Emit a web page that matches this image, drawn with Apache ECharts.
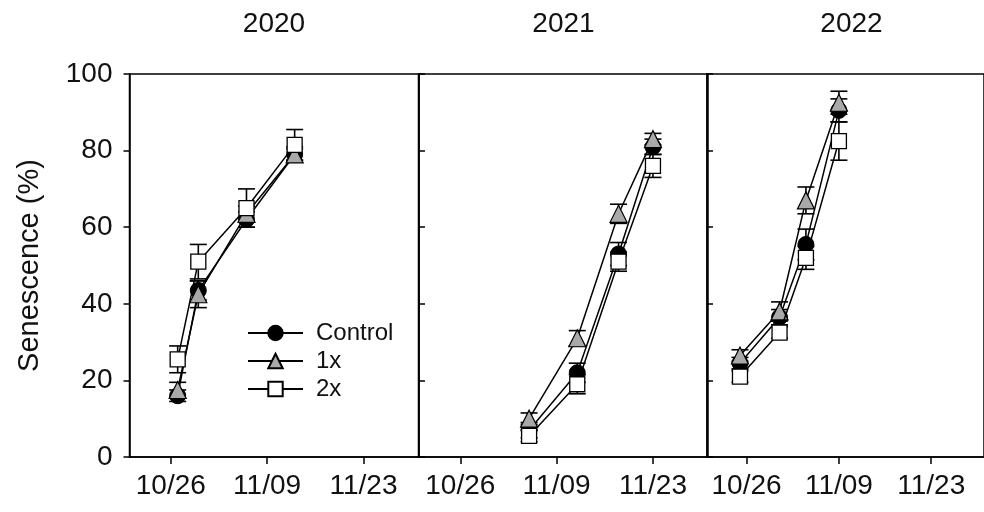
<!DOCTYPE html>
<html><head><meta charset="utf-8">
<script src="https://cdn.jsdelivr.net/npm/echarts@6/dist/echarts.min.js"></script>
<style>html,body{margin:0;padding:0;background:#fff}#c{width:984px;height:512px}</style>
</head><body><div id="c"></div>
<script>
// ---- data ----
const years = ['2020', '2021', '2022'];
const groupNames = ['Control', '1x', '2x'];
const xTickDates = ['10/26', '11/09', '11/23'];
const xRangeDates = ['10/20', '12/01'];
const yTickValues = [0, 20, 40, 60, 80, 100];
const yLabel = 'Senescence (%)';

const dates2020 = ['10/27', '10/30', '11/06', '11/13'];
const control2020 = [16, 43.5, 62, 79];
const controlErr2020 = [1.5, 2.5, 2, 1.5];
const x1_2020 = [17.5, 42.5, 63.5, 79];
const x1Err2020 = [2, 3.5, 2, 2];
const x2_2020 = [25.5, 51, 65, 81.5];
const x2Err2020 = [3.5, 4.5, 5, 4];

const dates2021 = ['11/05', '11/12', '11/18', '11/23'];
const control2021 = [7, 22, 53, 81];
const controlErr2021 = [2, 2.5, 3, 2];
const x1_2021 = [10, 31, 63.5, 83];
const x1Err2021 = [1.5, 2, 2.5, 1.5];
const x2_2021 = [5.5, 19, 51, 76];
const x2Err2021 = [1.5, 2.5, 2.5, 3];

const dates2022 = ['10/25', '10/31', '11/04', '11/09'];
const control2022 = [24.5, 36.5, 55.5, 90.5];
const controlErr2022 = [1.5, 2, 4, 3];
const x1_2022 = [26.5, 38, 67, 92.5];
const x1Err2022 = [1.5, 2.5, 3.5, 3];
const x2_2022 = [21, 32.5, 52, 82.5];
const x2Err2022 = [1.5, 1.5, 3, 5];

// ---- build ----
const FONT = 'Liberation Sans, Arial, sans-serif';
function dayNum(s) {
  const [m, d] = s.split('/').map(Number);
  return (Date.UTC(2000, m - 1, d) - Date.UTC(2000, 9, 26)) / 86400000;
}
const tickVals = xTickDates.map(dayNum);
const panels = [
  { dates: dates2020, vals: [control2020, x1_2020, x2_2020], errs: [controlErr2020, x1Err2020, x2Err2020] },
  { dates: dates2021, vals: [control2021, x1_2021, x2_2021], errs: [controlErr2021, x1Err2021, x2Err2021] },
  { dates: dates2022, vals: [control2022, x1_2022, x2_2022], errs: [controlErr2022, x1Err2022, x2Err2022] }
];
const gridLefts = [129.5, 419, 707];
const gridW = 289;
const gridTop = 74, gridH = 383;

const styles = [
  { symbol: 'circle', symbolSize: 16, itemStyle: { color: '#000', borderColor: '#000', borderWidth: 1 } },
  { symbol: 'triangle', symbolSize: 17, itemStyle: { color: '#a9a9a9', borderColor: '#000', borderWidth: 1.2 } },
  { symbol: 'rect', symbolSize: 15, itemStyle: { color: '#fff', borderColor: '#000', borderWidth: 1.3 } }
];

const grids = [], xAxes = [], yAxes = [], series = [], graphics = [];
panels.forEach((p, i) => {
  grids.push({ left: gridLefts[i], top: gridTop, width: gridW, height: gridH, show: true, borderColor: '#000', borderWidth: 1.5, backgroundColor: 'transparent' });
  xAxes.push({
    type: 'value', gridIndex: i, min: dayNum(xRangeDates[0]), max: dayNum(xRangeDates[1]),
    axisLine: { show: true, onZero: false, lineStyle: { color: '#000', width: 1.5 } },
    axisTick: { show: true, length: 7, lineStyle: { color: '#000', width: 1.5 }, customValues: tickVals },
    axisLabel: { show: true, customValues: tickVals, margin: 15, fontSize: 28, fontFamily: FONT, color: '#111',
      formatter: v => xTickDates[tickVals.indexOf(v)] || '' },
    splitLine: { show: false }
  });
  yAxes.push({
    type: 'value', gridIndex: i, min: yTickValues[0], max: yTickValues[yTickValues.length - 1], interval: yTickValues[1] - yTickValues[0],
    axisLine: { show: true, onZero: false, lineStyle: { color: '#000', width: 1.5 } },
    axisTick: { show: true, inside: i > 0, length: 6, lineStyle: { color: '#000', width: 1.5 } },
    axisLabel: { show: i === 0, margin: 17, fontSize: 28, fontFamily: FONT, color: '#111' },
    splitLine: { show: false },
    name: i === 0 ? yLabel : '', nameLocation: 'middle', nameGap: 85,
    nameTextStyle: { fontSize: 29, fontFamily: FONT, color: '#111' }
  });
  graphics.push({ type: 'text', x: gridLefts[i] + gridW / 2, y: 24,
    style: { text: years[i], fontSize: 28, fontFamily: FONT, fill: '#111', align: 'center', verticalAlign: 'middle' } });
  const xs = p.dates.map(dayNum);
  p.vals.forEach((vals, g) => {
    const errs = p.errs[g];
    series.push({
      type: 'custom', name: groupNames[g] + ' err ' + years[i], xAxisIndex: i, yAxisIndex: i, z: 1,
      data: xs.map((x, k) => [x, vals[k] - errs[k], vals[k] + errs[k]]),
      renderItem: (params, api) => {
        const x = api.value(0);
        const lo = api.coord([x, api.value(1)]);
        const hi = api.coord([x, api.value(2)]);
        const hw = 8.5;
        const st = { stroke: '#000', lineWidth: 1.6 };
        return { type: 'group', children: [
          { type: 'line', shape: { x1: lo[0], y1: lo[1], x2: hi[0], y2: hi[1] }, style: st },
          { type: 'line', shape: { x1: lo[0] - hw, y1: lo[1], x2: lo[0] + hw, y2: lo[1] }, style: st },
          { type: 'line', shape: { x1: hi[0] - hw, y1: hi[1], x2: hi[0] + hw, y2: hi[1] }, style: st }
        ] };
      }
    });
  });
  p.vals.forEach((vals, g) => {
    series.push(Object.assign({
      type: 'line', name: groupNames[g], xAxisIndex: i, yAxisIndex: i, z: 3 + g,
      data: xs.map((x, k) => [x, vals[k]]),
      lineStyle: { color: '#000', width: 1.5 }, showSymbol: true
    }, styles[g]));
  });
});

const chart = echarts.init(document.getElementById('c'), null, { renderer: 'canvas' });
chart.setOption({
  animation: false,
  backgroundColor: '#fff',
  grid: grids, xAxis: xAxes, yAxis: yAxes, series: series,
  graphic: graphics,
  legend: {
    data: groupNames, orient: 'vertical', left: 242, top: 315,
    itemWidth: 55, itemHeight: 18, itemGap: 2,
    textStyle: { fontSize: 24, lineHeight: 26, fontFamily: FONT, color: '#111', padding: [0, 0, 0, 8] },
    selectedMode: false
  }
});
</script></body></html>
